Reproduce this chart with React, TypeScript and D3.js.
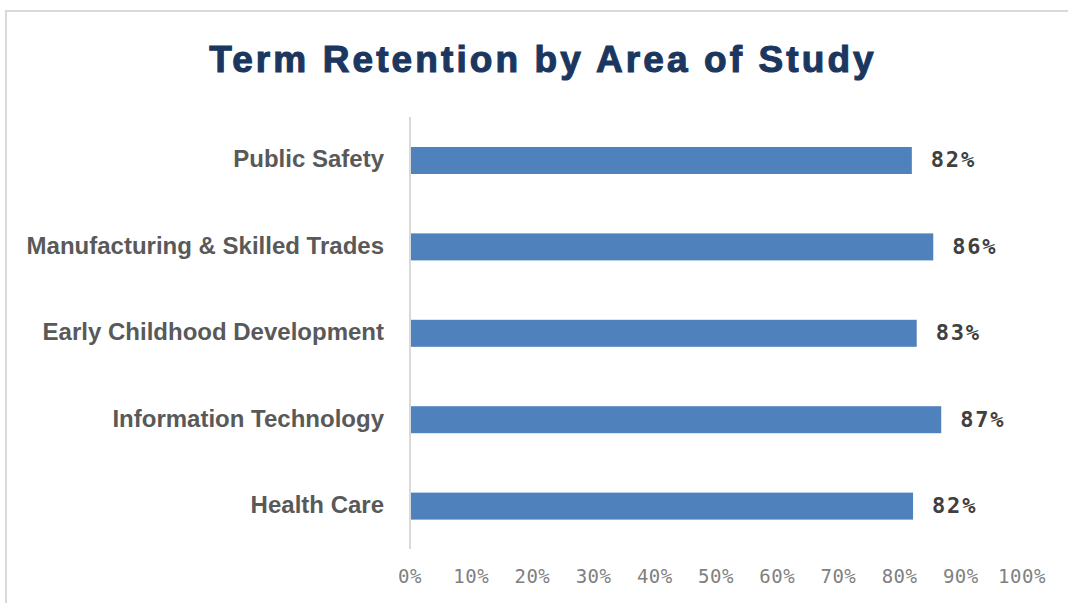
import React from "react";
import * as d3 from "d3";

const categories = [
  "Public Safety",
  "Manufacturing & Skilled Trades",
  "Early Childhood Development",
  "Information Technology",
  "Health Care",
];
const retention = [82.0, 85.5, 82.8, 86.8, 82.2];
const tickValues = [0, 10, 20, 30, 40, 50, 60, 70, 80, 90, 100];
const title = "Term Retention by Area of Study";

const W = 1068;
const H = 603;

export default function App() {
  const x = d3.scaleLinear().domain([0, 100]).range([410, 1022]);
  const y = d3
    .scaleBand<string>()
    .domain(categories)
    .range([117, 549.6])
    .paddingInner(0.6875)
    .paddingOuter(0.347);
  const bw = y.bandwidth();

  return (
    <svg
      width={W}
      height={H}
      style={{ position: "absolute", left: 0, top: 0, background: "#fff" }}
    >
      <rect x={0} y={0} width={W} height={H} fill="#ffffff" />
      {/* chart border */}
      <rect
        x={6}
        y={11}
        width={W + 20}
        height={H + 20}
        fill="none"
        stroke="#d9d9d9"
        strokeWidth={2}
      />
      <text
        x={543}
        y={72}
        textAnchor="middle"
        fontFamily="'Liberation Sans', Arial, sans-serif"
        fontWeight="bold"
        fontSize={37}
        letterSpacing={3.1}
        fill="#1b375f"
        stroke="#1b375f"
        strokeWidth={1.1}
      >
        {title}
      </text>
      {/* bars */}
      {categories.map((c, i) => (
        <rect
          key={c}
          x={x(0)}
          y={y(c)!}
          width={x(retention[i]) - x(0)}
          height={bw}
          fill="#4f81bd"
        />
      ))}
      {/* vertical axis line */}
      <line
        x1={x(0)}
        x2={x(0)}
        y1={117}
        y2={549}
        stroke="#d9d9d9"
        strokeWidth={2}
      />
      {/* category labels */}
      {categories.map((c) => (
        <text
          key={"l" + c}
          x={384}
          y={y(c)! + bw / 2 + 7}
          textAnchor="end"
          fontFamily="'Liberation Sans', Arial, sans-serif"
          fontWeight="bold"
          fontSize={24}
          fill="#595959"
        >
          {c}
        </text>
      ))}
      {/* value labels */}
      {categories.map((c, i) => (
        <text
          key={"v" + c}
          x={x(retention[i]) + 19}
          y={y(c)! + bw / 2 + 7}
          fontFamily="'DejaVu Sans Mono', monospace"
          fontWeight="bold"
          fontSize={22}
          letterSpacing={1.8}
          fill="#404040"
        >
          {Math.round(retention[i]) + "%"}
        </text>
      ))}
      {/* x tick labels */}
      {tickValues.map((t) => (
        <text
          key={"t" + t}
          x={x(t)}
          y={583}
          textAnchor="middle"
          fontFamily="'DejaVu Sans Mono', monospace"
          fontSize={19}
          letterSpacing={0.5}
          fill="#808080"
        >
          {t + "%"}
        </text>
      ))}
    </svg>
  );
}
